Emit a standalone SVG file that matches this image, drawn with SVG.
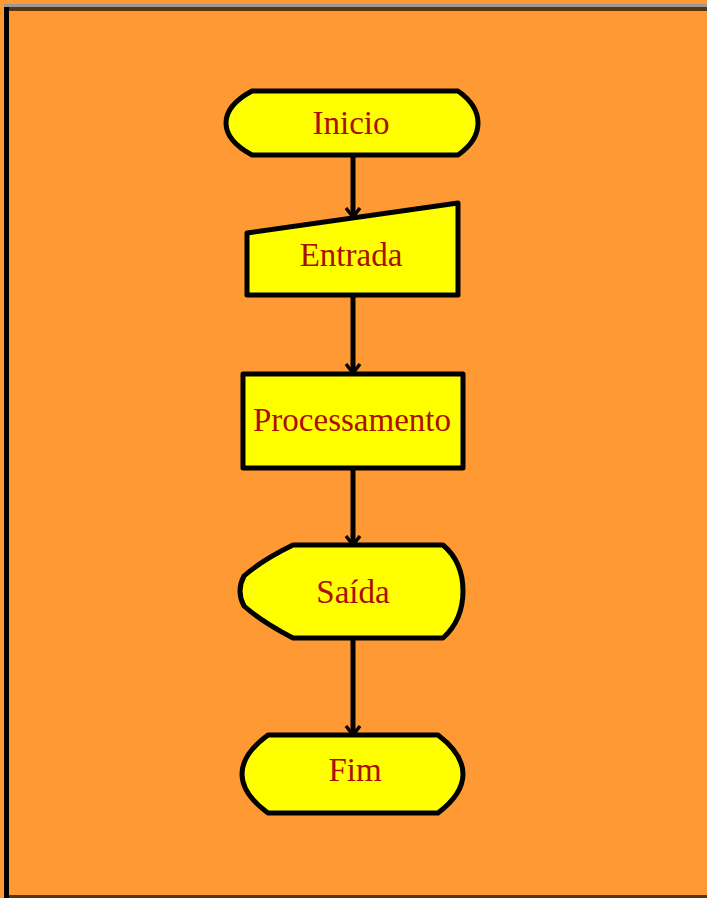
<svg xmlns="http://www.w3.org/2000/svg" width="707" height="898" viewBox="0 0 707 898">
<style>
.shape{fill:#FFFF00;stroke:#000;stroke-width:5;stroke-linejoin:round}
.lbl{font-family:"Liberation Serif","Times New Roman",serif;font-size:33px;fill:#A81000;text-anchor:middle}
.conn{stroke:#000;stroke-width:5;fill:none}
</style>
<defs>
<marker id="arr" markerUnits="userSpaceOnUse" markerWidth="14" markerHeight="18" refX="12" refY="9" orient="auto" viewBox="0 0 14 18">
<path d="M3,2 L12,9 L3,16" fill="none" stroke="#000" stroke-width="3.5"/>
</marker>
</defs>
<rect x="0" y="0" width="707" height="898" fill="#FF9933"/>
<rect x="4" y="4" width="703" height="3" fill="#9a9a9a"/>
<rect x="9" y="7" width="698" height="4" fill="#5a3510"/>
<rect x="4" y="7" width="5" height="891" fill="#000"/>
<rect x="9" y="895" width="698" height="3" fill="#5a3510"/>
<g id="connectors">
<line class="conn" x1="353" y1="157" x2="353" y2="217" marker-end="url(#arr)"/>
<line class="conn" x1="353" y1="297" x2="353" y2="373" marker-end="url(#arr)"/>
<line class="conn" x1="353" y1="470" x2="353" y2="545" marker-end="url(#arr)"/>
<line class="conn" x1="353" y1="640" x2="353" y2="735" marker-end="url(#arr)"/>
</g>
<g id="inicio">
<path class="shape" d="M252,91 L458,91 Q478,105 478,123 Q478,141 458,155 L252,155 Q226,141 226,123 Q226,105 252,91 Z"/>
<text class="lbl" x="351" y="134">Inicio</text>
</g>
<g id="entrada">
<path class="shape" d="M247,233 L458,203 L458,295 L247,295 Z"/>
<text class="lbl" x="351" y="266">Entrada</text>
</g>
<g id="processamento">
<rect class="shape" x="243" y="374" width="220" height="94"/>
<text class="lbl" x="352" y="431">Processamento</text>
</g>
<g id="saida">
<path class="shape" d="M293,545 L443,545 Q463,562 463,591 Q463,620 443,638 L293,638 Q262,622 244,606 Q236,591 244,576 Q262,560 293,545 Z"/>
<text class="lbl" x="353" y="603">Saída</text>
</g>
<g id="fim">
<path class="shape" d="M268,735 L438,735 Q463,754 463,774 Q463,794 438,813 L268,813 Q242,794 242,774 Q242,754 268,735 Z"/>
<text class="lbl" x="355" y="781">Fim</text>
</g>
</svg>
